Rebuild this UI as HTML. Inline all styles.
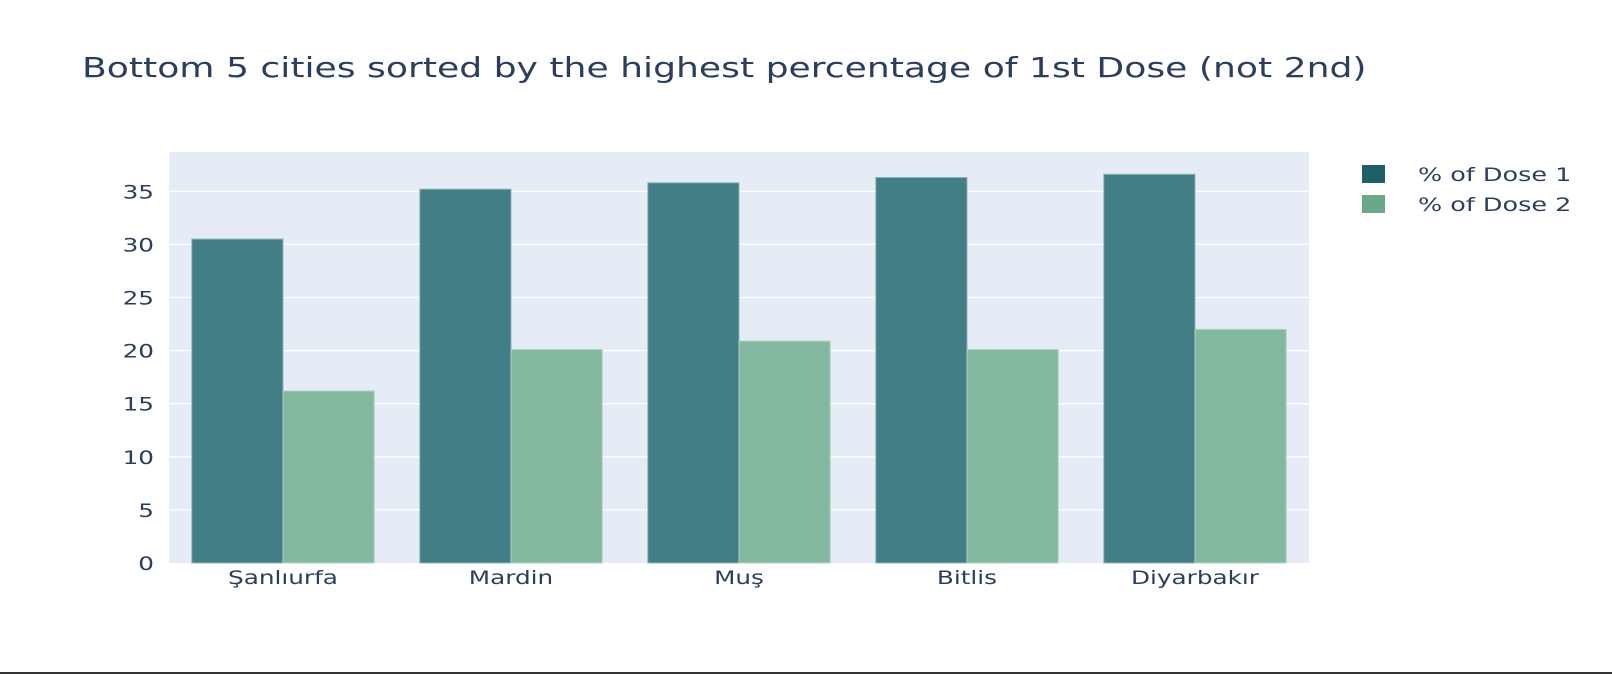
<!DOCTYPE html>
<html><head><meta charset="utf-8"><style>
html,body{margin:0;padding:0;background:#fff;width:1612px;height:674px;overflow:hidden}
svg{display:block;font-family:"DejaVu Sans","Liberation Sans",sans-serif}
</style></head><body>
<svg id="chart" width="1612" height="674">
<text class="st" data-k="1.29" x="82" y="77" font-size="28" fill="#2a3f5f">Bottom 5 cities sorted by the highest percentage of 1st Dose (not 2nd)</text>
<rect x="169" y="152" width="1140" height="411" fill="#e5ecf6"/>
<g id="grid"></g><g id="bars"></g><g id="axes"></g>
<g>
<g><rect x="1362" y="165" width="23" height="18" fill="#1d6068"/><text class="st" data-k="1.34" x="1418" y="181" font-size="19" fill="#2a3f5f">% of Dose 1</text></g>
<g><rect x="1362" y="195" width="23" height="18" fill="#6aa889"/><text class="st" data-k="1.34" x="1418" y="211" font-size="19" fill="#2a3f5f">% of Dose 2</text></g>
</g>
<rect x="0" y="672" width="1612" height="2" fill="#333"/>
</svg>
<script>
const categories=["Şanlıurfa","Mardin","Muş","Bitlis","Diyarbakır"];
const dose1=[30.5,35.2,35.8,36.3,36.6];
const dose2=[16.2,20.1,20.9,20.1,22.0];
const yTicks=[0,5,10,15,20,25,30,35];
const X0=169,W=1140,Y0=563,H=411,YMAX=38.7;
const y=v=>Y0-v/YMAX*H;
const bw=W/categories.length;
const ns="http://www.w3.org/2000/svg";
function mk(t,a,p){const e=document.createElementNS(ns,t);for(const k in a)e.setAttribute(k,a[k]);p.appendChild(e);return e;}
const grid=document.getElementById('grid'),bars=document.getElementById('bars'),axes=document.getElementById('axes');
yTicks.forEach(t=>{
 if(t>0){const l=mk('line',{x1:X0,x2:X0+W,y1:y(t),y2:y(t),stroke:'#fff','stroke-width':1.3},grid);
 
 }
 const tx=mk('text',{class:'st','data-k':1.3,x:X0-15,y:y(t)+7,'text-anchor':'end','font-size':19,fill:'#2a3f5f'},axes);tx.textContent=t;
 
 
});
categories.forEach((c,i)=>{
 const cx=X0+bw*(i+0.5),half=bw*0.4;
 const b1=mk('rect',{x:cx-half,y:y(dose1[i]),width:half,height:Y0-y(dose1[i]),fill:'#427e86',stroke:'#8fb3b7','stroke-width':1},bars);
 
 
 const b2=mk('rect',{x:cx,y:y(dose2[i]),width:half,height:Y0-y(dose2[i]),fill:'#84b9a0',stroke:'#b3d4c4','stroke-width':1},bars);
 
 
 const tx=mk('text',{class:'st','data-k':1.3,x:cx,y:Y0+21,'text-anchor':'middle','font-size':19,fill:'#2a3f5f'},axes);tx.textContent=c;
 
 
});
// stretch text horizontally to match the wide reference font
document.querySelectorAll('text.st').forEach(t=>{
 const L=t.getComputedTextLength();
 const k=parseFloat(t.getAttribute('data-k'))||1.22;
 t.setAttribute('textLength',(L*k).toFixed(1));
 t.setAttribute('lengthAdjust','spacingAndGlyphs');
});
</script>
</body></html>
